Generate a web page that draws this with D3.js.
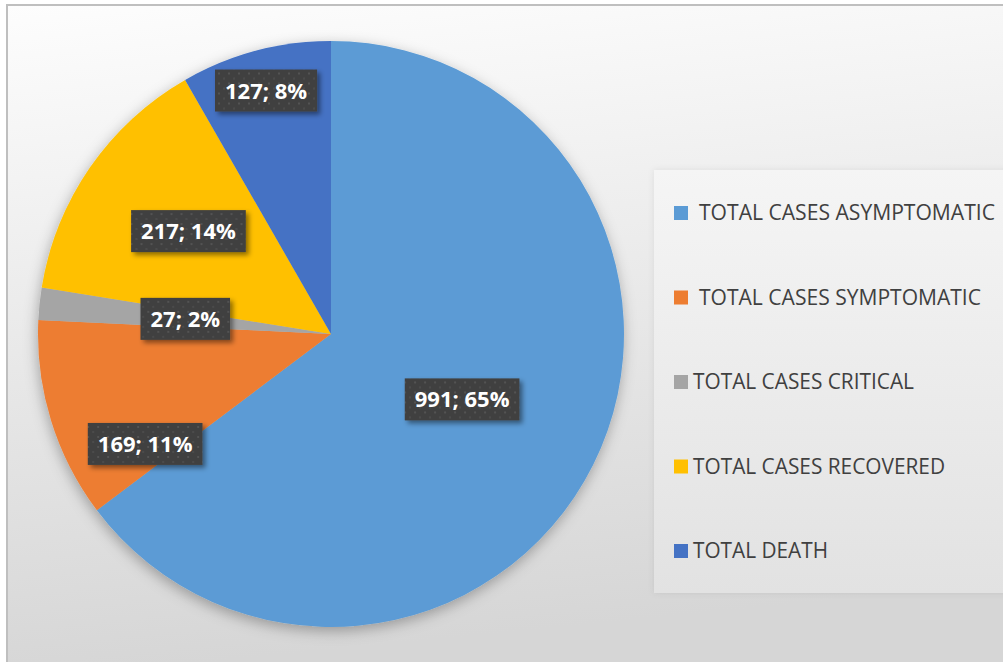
<!DOCTYPE html>
<html>
<head>
<meta charset="utf-8">
<script src="https://cdn.jsdelivr.net/npm/d3@7"></script>
<style>
  body { margin: 0; background: #fff; overflow: hidden; }
  svg { display: block; }
</style>
</head>
<body>
<script>
const width = 1003;
const height = 662;

const categories = [
  "TOTAL CASES ASYMPTOMATIC",
  "TOTAL CASES SYMPTOMATIC",
  "TOTAL CASES CRITICAL",
  "TOTAL CASES RECOVERED",
  "TOTAL DEATH",
];
const values = [991, 169, 27, 217, 127];

const colour = ["#5B9BD5", "#ED7D31", "#A5A5A5", "#FFC000", "#4472C4"];

// where excel's "best fit" put each label: fraction of radius, angle nudge (deg)
const labelRadius = [0.5, 0.737, 0.5, 0.6, 0.86];
const labelNudge = [0, -13.5, 0, 1.2, 0];

const cx = 331;
const cy = 334;
const radius = 293;

const svg = d3
  .select("body")
  .append("svg")
  .attr("width", width)
  .attr("height", height);

const defs = svg.append("defs");

const bg = defs
  .append("linearGradient")
  .attr("id", "bg")
  .attr("x1", 0)
  .attr("y1", 0)
  .attr("x2", 0.15)
  .attr("y2", 1);
bg.append("stop").attr("offset", "0%").attr("stop-color", "#fdfdfd");
bg.append("stop").attr("offset", "100%").attr("stop-color", "#d6d6d6");

const legBg = defs
  .append("linearGradient")
  .attr("id", "legbg")
  .attr("x1", 0)
  .attr("y1", 0)
  .attr("x2", 0)
  .attr("y2", 1);
legBg.append("stop").attr("offset", "0%").attr("stop-color", "#f5f5f5");
legBg.append("stop").attr("offset", "100%").attr("stop-color", "#e2e2e2");

const pat = defs
  .append("pattern")
  .attr("id", "dots")
  .attr("patternUnits", "userSpaceOnUse")
  .attr("width", 10)
  .attr("height", 10);
pat.append("rect").attr("width", 10).attr("height", 10).attr("fill", "#404040");
pat.append("rect").attr("x", 2).attr("y", 2).attr("width", 2).attr("height", 2).attr("fill", "#535353");
pat.append("rect").attr("x", 7).attr("y", 7).attr("width", 2).attr("height", 2).attr("fill", "#4c4c4c");

const pieShadow = defs
  .append("filter")
  .attr("id", "pieShadow")
  .attr("x", "-20%")
  .attr("y", "-20%")
  .attr("width", "140%")
  .attr("height", "140%");
pieShadow
  .append("feDropShadow")
  .attr("dx", -1)
  .attr("dy", 4)
  .attr("stdDeviation", 7)
  .attr("flood-color", "#000")
  .attr("flood-opacity", 0.3);

const boxShadow = defs
  .append("filter")
  .attr("id", "boxShadow")
  .attr("x", "-20%")
  .attr("y", "-30%")
  .attr("width", "150%")
  .attr("height", "180%");
boxShadow
  .append("feDropShadow")
  .attr("dx", 3)
  .attr("dy", 3)
  .attr("stdDeviation", 2.5)
  .attr("flood-color", "#000")
  .attr("flood-opacity", 0.45);

const legShadow = defs
  .append("filter")
  .attr("id", "legShadow")
  .attr("x", "-10%")
  .attr("y", "-10%")
  .attr("width", "130%")
  .attr("height", "130%");
legShadow
  .append("feDropShadow")
  .attr("dx", 0)
  .attr("dy", 0)
  .attr("stdDeviation", 3)
  .attr("flood-color", "#000")
  .attr("flood-opacity", 0.08);

// chart area
svg
  .append("rect")
  .attr("x", 7)
  .attr("y", 5)
  .attr("width", width)
  .attr("height", height)
  .attr("fill", "url(#bg)")
  .attr("stroke", "#bfbfbf")
  .attr("stroke-width", 2);

// legend box
svg
  .append("rect")
  .attr("x", 654)
  .attr("y", 170)
  .attr("width", 360)
  .attr("height", 423)
  .attr("fill", "url(#legbg)")
  .attr("filter", "url(#legShadow)");

const pie = d3.pie().sort(null).value((d) => d)(values);
const total = d3.sum(values);

const arc = d3.arc().innerRadius(0).outerRadius(radius);

const pieGroup = svg
  .append("g")
  .attr("transform", "translate(" + cx + "," + cy + ")");

pieGroup
  .append("g")
  .attr("filter", "url(#pieShadow)")
  .selectAll("path")
  .data(pie)
  .join("path")
  .attr("d", arc)
  .attr("fill", (d, i) => colour[i]);

// data labels
const labels = pieGroup
  .selectAll(".lbl")
  .data(pie)
  .join("g")
  .attr("class", "lbl")
  .attr("transform", function (d, i) {
    const a = (d.startAngle + d.endAngle) / 2 + (labelNudge[i] * Math.PI) / 180;
    const r = labelRadius[i] * radius;
    return "translate(" + r * Math.sin(a) + "," + -r * Math.cos(a) + ")";
  });

const boxes = labels.append("rect").attr("filter", "url(#boxShadow)").attr("fill", "url(#dots)");

labels
  .append("text")
  .attr("text-anchor", "middle")
  .attr("y", 8)
  .attr("fill", "#fff")
  .attr("font-family", "'Open Sans', sans-serif")
  .attr("font-weight", "bold")
  .attr("font-size", 22)
  .text((d) => d.value + "; " + Math.round((d.value / total) * 100) + "%");

labels.each(function () {
  const g = d3.select(this);
  const w = g.select("text").node().getComputedTextLength();
  g.select("rect")
    .attr("x", -w / 2 - 10)
    .attr("y", -21)
    .attr("width", w + 20)
    .attr("height", 42);
});

// legend
const legendY = d3
  .scalePoint()
  .domain(categories)
  .range([213, 551]);

const legend = svg
  .selectAll(".key")
  .data(categories)
  .join("g")
  .attr("class", "key")
  .attr("transform", (d) => "translate(674," + legendY(d) + ")");

legend
  .append("rect")
  .attr("x", 0)
  .attr("y", -7)
  .attr("width", 14)
  .attr("height", 14)
  .attr("fill", (d, i) => colour[i]);

const legendWidth = [296, 282, 221, 252, 135];

legend
  .append("text")
  .attr("x", (d, i) => (i < 2 ? 25 : 19))
  .attr("y", 7)
  .attr("fill", "#404040")
  .attr("font-family", "'Open Sans', sans-serif")
  .attr("font-size", 21)
  .attr("textLength", (d, i) => legendWidth[i])
  .attr("lengthAdjust", "spacingAndGlyphs")
  .text((d) => d);
</script>
</body>
</html>
